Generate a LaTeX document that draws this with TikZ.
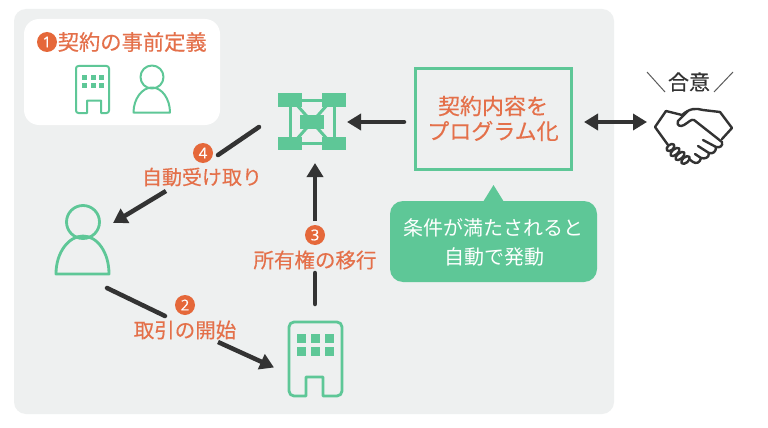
\documentclass[tikz,border=0pt]{standalone}
\usepackage{fontspec}
\setmainfont{Noto Sans CJK JP}[FakeBold=0.35]
\newfontfamily\jpthin{Noto Sans CJK JP}
\newfontfamily\numfont{Open Sans}[FakeBold=0.6]
\usetikzlibrary{arrows.meta}
\definecolor{panelgray}{HTML}{EEF0F0}
\definecolor{mygreen}{HTML}{5EC797}
\definecolor{myorange}{HTML}{E5683A}
\definecolor{txtorange}{HTML}{E4704A}
\definecolor{mydark}{HTML}{333333}
\tikzset{
  lbl/.style={text=txtorange,font=\fontsize{20.5}{22}\selectfont,inner sep=0pt,anchor=center},
  wlbl/.style={text=white,font=\jpthin\fontsize{20}{22}\selectfont,inner sep=0pt,anchor=center},
  num/.style={circle,fill=myorange,text=white,minimum size=20pt,inner sep=0pt,font=\numfont\fontsize{15}{15}\selectfont},
  icon/.style={draw=mygreen,line width=2.8pt,line join=round},
  iconsm/.style={draw=mygreen,line width=2pt,line join=round},
  conn/.style={draw=mydark,line width=4.5pt,line cap=round},
  head/.style={-{Triangle[length=14pt,width=16pt]}},
  headb/.style={{Triangle[length=14pt,width=16pt]}-{Triangle[length=14pt,width=16pt]}},
  net/.style={fill=mygreen,draw=none},
  netl/.style={draw=mygreen,line width=3pt},
}
\begin{document}
\begin{tikzpicture}[x=1pt,y=-1pt]
\path[use as bounding box,fill=white] (0,0) rectangle (768,428);
% panels
\fill[panelgray,rounded corners=12pt] (14,9) rectangle (614,414);
\fill[white,rounded corners=15pt] (24,19) rectangle (220,125);
% step 1
\node[num] (n1) at (47,42) {1};
\node[lbl,anchor=west,font=\fontsize{21.3}{22}\selectfont] (t1) at (57.5,42) {契約の事前定義};
% small building
\draw[iconsm] (87,100.5) -- (87,113) [rounded corners=2.5pt] -- (76,113) -- (76,66) -- (109,66) -- (109,113) [sharp corners] -- (101,113) -- (101,100.5) -- cycle;
\foreach \xx in {82,90.5,99}{\foreach \yy in {75,83}{\fill[mygreen] (\xx,\yy) rectangle ++(5,5);}}
% small person
\draw[iconsm] (152,77) circle[radius=11.5];
\draw[iconsm] (133.5,112.5) .. controls (133.5,99) and (142,87.5) .. (152,87.5) .. controls (162,87.5) and (170,99) .. (170,112.5) -- cycle;
% network icon
\coordinate (netc) at (312,122);
\draw[netl] (290,100) rectangle (334,143);
\draw[netl] (296,104) -- (328,140);
\draw[netl] (328,104) -- (296,140);
\fill[net] (278,93) rectangle (302,107);
\fill[net] (322,93) rectangle (346,107);
\fill[net] (278,137) rectangle (302,150);
\fill[net] (322,137) rectangle (346,150);
\fill[net] (300,115) rectangle (324,129);
\coordinate (neteast) at (347,122);
\coordinate (netsouth) at (315,163);
\coordinate (netsw) at (259,127);
% main box
\node[draw=mygreen,line width=3pt,minimum width=156pt,minimum height=101pt,inner sep=0pt] (prog) at (493.5,119) {};
\node[lbl,font=\fontsize{22}{22}\selectfont] (prog1) at (493,106) {契約内容を};
\node[lbl,font=\fontsize{22}{22}\selectfont] (prog2) at (493,131) {プログラム化};
% callout
\fill[mygreen,rounded corners=13pt] (390,201) rectangle (597,282);
\fill[mygreen] (483,202) -- (493.5,185) -- (504,202) -- cycle;
\node[wlbl] (c1) at (493,228) {条件が満たされると};
\node[wlbl] (c2) at (494,257) {自動で発動};
% large building
\draw[icon] (306,377) -- (306,396) [rounded corners=5pt] -- (289,396) -- (289,322) -- (342,322) -- (342,396) [sharp corners] -- (323,396) -- (323,377) -- cycle;
\foreach \xx in {297,311,325}{\foreach \yy in {334,347}{\fill[mygreen] (\xx,\yy) rectangle ++(9,8.5);}}
\coordinate (bldtop) at (315,304);
\coordinate (bldwest) at (274,367.5);
% large person
\coordinate (pshead) at (83,222);
\draw[icon] (pshead) circle[radius=16.5];
\draw[icon] (56,274) .. controls (56,252) and (69,236) .. (83,236) .. controls (97,236) and (109,252) .. (109,274) -- cycle;
\coordinate (psne) at (113,223);
\coordinate (psse) at (107,288);
% step 2
\node[num] (n2) at (185,305) {2};
\node[lbl] (t2) at (185,330) {取引の開始};
\coordinate (g2a) at (165,316);
\coordinate (g2b) at (218,342);
\draw[conn] (psse) -- (g2a);
\draw[conn,head,line cap=butt] (g2b) -- (bldwest);
% step 3
\node[num] (n3) at (315,235) {3};
\node[lbl] (t3) at (315,260) {所有権の移行};
\coordinate (g3a) at (315,273);
\coordinate (g3b) at (315,221);
\draw[conn] (bldtop) -- (g3a);
\draw[conn,head,line cap=butt] (g3b) -- (netsouth);
% step 4
\node[num] (n4) at (203,153) {4};
\node[lbl,font=\fontsize{20}{22}\selectfont] (t4) at (202,177) {自動受け取り};
\coordinate (g4a) at (218,155);
\coordinate (g4b) at (166,191);
\draw[conn] (netsw) -- (g4a);
\draw[conn,head,line cap=butt] (g4b) -- (psne);
% arrows to/from box
\coordinate (progw) at (404,122);
\coordinate (hand) at (647,122);
\coordinate (proge) at (584,122);
\draw[conn,head] (progw) -- (neteast);
\draw[conn,headb,line cap=butt] (proge) -- (hand);
% agreement
\node[text=mydark,font=\fontsize{21}{22}\selectfont,inner sep=0pt] (agree) at (689,82) {合意};
\coordinate (sa) at (647,72); \coordinate (sb) at (665,92);
\coordinate (sc) at (733,72); \coordinate (sd) at (714,92);
\draw[mydark!80,line width=1pt] (sa) -- (sb);
\draw[mydark!80,line width=1pt] (sc) -- (sd);
% handshake
\begin{scope}[draw=mydark,line width=2.4pt,line join=round,line cap=round]
\draw (666,111) -- (682,115) .. controls (690,108) and (696,108) .. (703,110) -- (720,112) -- (732,128) -- (722,139);
\draw (666,111) -- (655,127) -- (668,145);
\draw (688,111) -- (678,121) .. controls (676,126) and (681,127) .. (684,125) .. controls (689,122) and (691,119) .. (694,120) -- (722,142) .. controls (723,146) and (720,148) .. (716,147) -- (703,140);
\draw (716,147) .. controls (716,152) and (713,154) .. (709,153) -- (698,146);
\draw (709,153) .. controls (709,158) and (705,159) .. (701,158) -- (695,154);
\draw (701,158) .. controls (700,163) and (696,164) .. (693,162) -- (689,159);
\draw[rotate around={40:(670.5,147.5)}] (670.5,147.5) ellipse[x radius=4.5,y radius=2.8];
\draw[rotate around={40:(675,152)}] (675,152) ellipse[x radius=5.5,y radius=2.8];
\draw[rotate around={40:(680,156)}] (680,156) ellipse[x radius=5.5,y radius=2.8];
\draw[rotate around={40:(685.5,160)}] (685.5,160) ellipse[x radius=5,y radius=2.8];
\end{scope}
\end{tikzpicture}
\end{document}
